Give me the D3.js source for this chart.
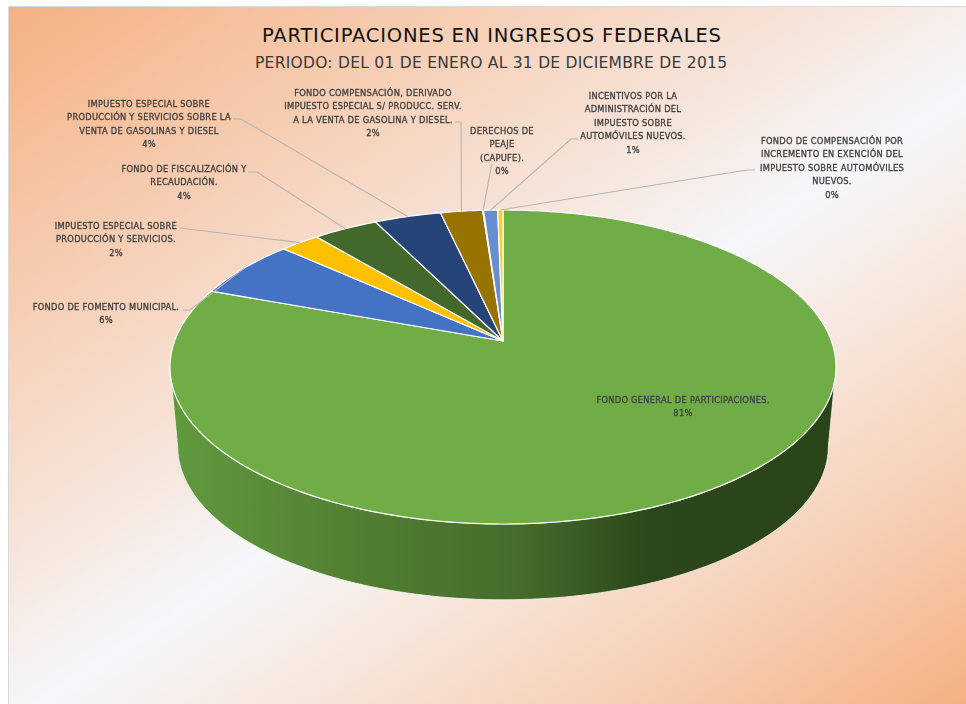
<!DOCTYPE html>
<html lang="es">

<head>
    <meta charset="utf-8">
    <title>Participaciones en ingresos federales</title>
    <script src="https://cdn.jsdelivr.net/npm/d3@7"></script>
    <style>
        html, body { margin: 0; padding: 0; background: #fff; }
        svg { display: block; }
        text { font-family: "DejaVu Sans", sans-serif; text-anchor: middle; }
        .title { font-size: 19.5px; fill: #111; }
        .subtitle { font-size: 15.5px; fill: #3a3a3a; }
        .label { font-size: 8.3px; letter-spacing: 0.28px; fill: #404040; stroke: #404040; stroke-width: 0.3px; }
    </style>
</head>

<body>
    <script>
        // Values (share of the pie, clockwise from 12 o'clock)
        var categories = [
            "FONDO GENERAL DE PARTICIPACIONES.",
            "FONDO DE FOMENTO MUNICIPAL.",
            "IMPUESTO ESPECIAL SOBRE PRODUCCIÓN Y SERVICIOS.",
            "FONDO DE FISCALIZACIÓN Y RECAUDACIÓN.",
            "IMPUESTO ESPECIAL SOBRE PRODUCCIÓN Y SERVICIOS SOBRE LA VENTA DE GASOLINAS Y DIESEL",
            "FONDO COMPENSACIÓN, DERIVADO IMPUESTO ESPECIAL S/ PRODUCC. SERV. A LA VENTA DE GASOLINA Y DIESEL.",
            "DERECHOS DE PEAJE (CAPUFE).",
            "INCENTIVOS POR LA ADMINISTRACIÓN DEL IMPUESTO SOBRE AUTOMÓVILES NUEVOS.",
            "FONDO DE COMPENSACIÓN POR INCREMENTO EN EXENCIÓN DEL IMPUESTO SOBRE AUTOMÓVILES NUEVOS."
        ];
        var values = [80.6, 6.1, 2.25, 3.7, 3.8, 2.4, 0.05, 0.8, 0.3];
        var percentLabels = ["81%", "6%", "2%", "4%", "4%", "2%", "0%", "1%", "0%"];
        var labelLines = [
            ["FONDO GENERAL DE PARTICIPACIONES."],
            ["FONDO DE FOMENTO MUNICIPAL."],
            ["IMPUESTO  ESPECIAL SOBRE", "PRODUCCIÓN Y SERVICIOS."],
            ["FONDO DE FISCALIZACIÓN Y", "RECAUDACIÓN."],
            ["IMPUESTO  ESPECIAL SOBRE", "PRODUCCIÓN Y SERVICIOS SOBRE LA", "VENTA DE GASOLINAS Y DIESEL"],
            ["FONDO COMPENSACIÓN, DERIVADO", "IMPUESTO  ESPECIAL S/ PRODUCC. SERV.", "A LA VENTA DE GASOLINA Y DIESEL."],
            ["DERECHOS DE", "PEAJE", "(CAPUFE)."],
            ["INCENTIVOS  POR LA", "ADMINISTRACIÓN DEL", "IMPUESTO  SOBRE", "AUTOMÓVILES NUEVOS."],
            ["FONDO DE COMPENSACIÓN  POR", "INCREMENTO  EN EXENCIÓN DEL", "IMPUESTO  SOBRE AUTOMÓVILES", "NUEVOS."]
        ];

        var sliceColors = ["#70AD47", "#4472C4", "#FFC000", "#43682B", "#264478", "#997300", "#636363", "#698ED0", "#FFCD33"];

        // Label placement: centre x, y of first line, and the leader's start/elbow
        var labelPlace = [
            { x: 683, y: 400 },
            { x: 106, y: 307, from: [183, 310], elbow: [190, 310] },
            { x: 116, y: 226, from: [180, 228] },
            { x: 184, y: 169, from: [248, 172], elbow: [257, 172] },
            { x: 149, y: 104, from: [233, 119], elbow: [241, 119] },
            { x: 373, y: 93, from: [455, 122], elbow: [461, 122] },
            { x: 502, y: 131, from: [492, 163] },
            { x: 633, y: 96, from: [578, 139], elbow: [571, 139] },
            { x: 832, y: 141, from: [755, 170], elbow: [747, 170] }
        ];

        var w = 966;
        var h = 704;

        // Perspective of the pie: apex sits above the middle of the ellipse
        var cx = 503, cy = 341, rx = 328.4, ry = 152.7, k = 0.1656;
        var wallDepth = 80, wallShrink = 0.977;

        function project(angle, depth) {
            var u = Math.sin(angle), v = Math.cos(angle);
            var s = 1 + k * v;
            var shrink = depth ? wallShrink : 1;
            return [
                cx + rx * shrink * u / s,
                cy + (depth || 0) - ry * shrink * v / s
            ];
        }

        var svg = d3.select("body")
            .append("svg")
            .attr("width", w).attr("height", h);

        var defs = svg.append("defs");

        var bg = defs.append("linearGradient")
            .attr("id", "bg")
            .attr("gradientUnits", "userSpaceOnUse")
            .attr("x1", 8).attr("y1", 6).attr("x2", 620).attr("y2", 932);
        [[0, "#F4B183"], [0.27, "#F6D3BC"], [0.42, "#F6E6DC"], [0.54, "#F5F7FA"], [0.67, "#F7E6DB"], [0.82, "#F6D0B6"], [1, "#F4B183"]]
            .forEach(function (d) {
                bg.append("stop").attr("offset", d[0]).attr("stop-color", d[1]);
            });

        var wallGrad = defs.append("linearGradient")
            .attr("id", "wall")
            .attr("gradientUnits", "userSpaceOnUse")
            .attr("x1", 170).attr("y1", 0).attr("x2", 836).attr("y2", 0);
        [[0, "#629A3E"], [0.3, "#517D32"], [0.52, "#466C2B"], [0.72, "#2C471A"], [1, "#2A4419"]]
            .forEach(function (d) {
                wallGrad.append("stop").attr("offset", d[0]).attr("stop-color", d[1]);
            });

        defs.append("filter")
            .attr("id", "soft")
            .append("feGaussianBlur").attr("stdDeviation", 0.3);

        // Chart area
        svg.append("rect")
            .attr("x", 8.5).attr("y", 6.5)
            .attr("width", w).attr("height", h)
            .attr("fill", "url(#bg)")
            .attr("stroke", "#d9d9d9");

        svg.append("text").attr("class", "title")
            .attr("x", 491.5).attr("y", 41.5)
            .attr("textLength", 459)
            .text("PARTICIPACIONES EN INGRESOS FEDERALES");

        svg.append("text").attr("class", "subtitle")
            .attr("x", 491).attr("y", 67.5)
            .attr("textLength", 472)
            .text("PERIODO: DEL 01 DE ENERO AL 31 DE DICIEMBRE DE 2015");

        var pie = d3.pie().sort(null).startAngle(0).endAngle(2 * Math.PI);
        var arcs = pie(values);

        var line = d3.line();

        // Side wall: front half of the rim, from the right extreme to the left one
        var rimStart = Math.PI / 2 + Math.asin(k);
        var rimEnd = 2 * Math.PI - rimStart;
        var rimAngles = d3.range(0, 121).map(function (i) {
            return rimStart + (rimEnd - rimStart) * i / 120;
        });
        var wallPts = rimAngles.map(function (a) { return project(a, 0); })
            .concat(rimAngles.slice().reverse().map(function (a) { return project(a, wallDepth); }));

        svg.append("path")
            .attr("d", line(wallPts) + "Z")
            .attr("fill", "url(#wall)")
            .attr("stroke", "#f4f4ee")
            .attr("stroke-width", 0.8);

        // Top face, one path per slice
        svg.selectAll("path.slice")
            .data(arcs)
            .enter()
            .append("path")
            .attr("class", "slice")
            .attr("d", function (d) {
                var n = Math.max(2, Math.ceil((d.endAngle - d.startAngle) * 60));
                var pts = d3.range(0, n + 1).map(function (i) {
                    return project(d.startAngle + (d.endAngle - d.startAngle) * i / n, 0);
                });
                return line([[cx, cy]].concat(pts)) + "Z";
            })
            .attr("fill", function (d, i) { return sliceColors[i]; })
            .attr("stroke", "#fff")
            .attr("stroke-width", 1.2)
            .attr("stroke-linejoin", "round");

        // Leader lines end at the middle of each slice's rim
        arcs.forEach(function (d, i) {
            var place = labelPlace[i];
            if (!place.from) return;
            var pts = [place.from];
            if (place.elbow) pts.push(place.elbow);
            pts.push(project((d.startAngle + d.endAngle) / 2, 0));
            svg.append("path")
                .attr("d", line(pts))
                .attr("fill", "none")
                .attr("stroke", "#b5b5b5")
                .attr("stroke-width", 1.1);
        });

        // Data labels
        var labels = svg.append("g").attr("filter", "url(#soft)");
        categories.forEach(function (name, i) {
            var place = labelPlace[i];
            var rows = labelLines[i].concat(percentLabels[i]);
            var g = labels.append("g").attr("class", "label-group");
            g.append("title").text(name);
            rows.forEach(function (row, j) {
                g.append("text").attr("class", "label")
                    .attr("x", place.x)
                    .attr("y", place.y + 3 + j * 13.4)
                    .text(row);
            });
        });
    </script>
</body>

</html>
